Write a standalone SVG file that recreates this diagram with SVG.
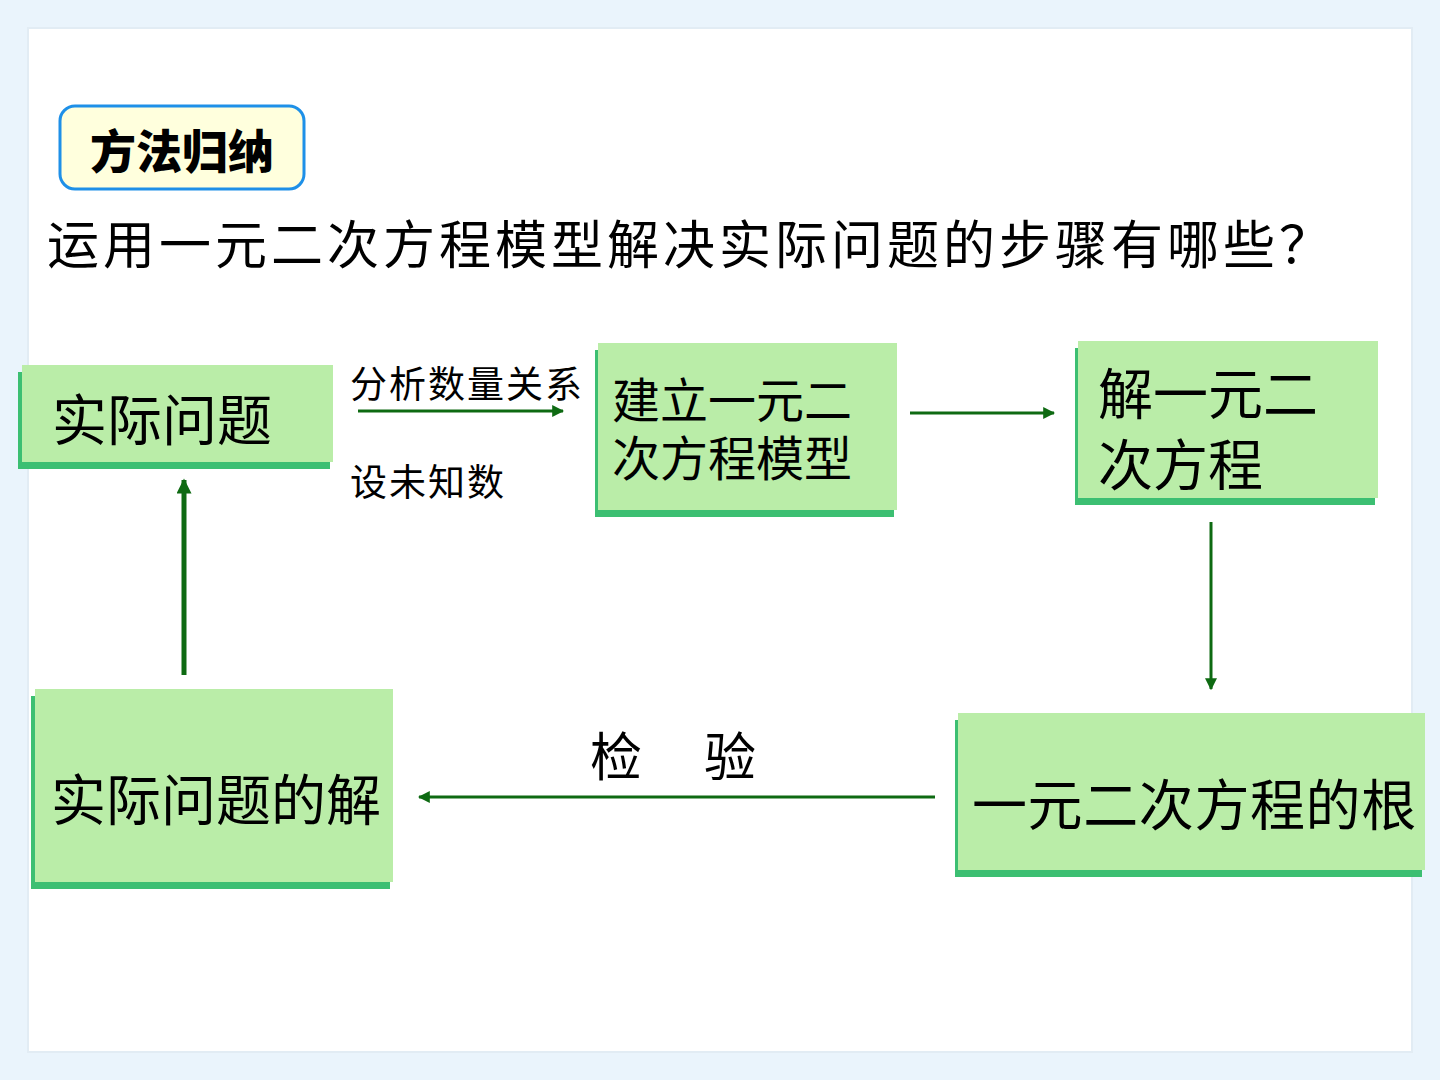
<svg xmlns="http://www.w3.org/2000/svg" width="1440" height="1080" viewBox="0 0 1440 1080">
<defs>
<style>
.bg{fill:#EAF4FC}
.panel{fill:#FFFFFF;stroke:#E2ECF4;stroke-width:2}
.fill{fill:#BAEDA8}
.shadow{fill:#3CBF72}
.t{font-family:"Noto Sans CJK SC","Noto Sans",sans-serif;fill:#000}
.conn{stroke:#0E6A12;stroke-width:3;fill:none}
.thick{stroke-width:5}
</style>
<marker id="ah" viewBox="0 0 10 10" refX="9" refY="5" markerWidth="4" markerHeight="4" orient="auto" markerUnits="strokeWidth">
<path d="M0,0 L10,5 L0,10 z" fill="#0E6A12"/>
</marker>
<marker id="ahb" viewBox="0 0 10 10" refX="9" refY="5" markerWidth="3.2" markerHeight="3" orient="auto" markerUnits="strokeWidth">
<path d="M0,0 L10,5 L0,10 z" fill="#0E6A12"/>
</marker>
</defs>
<rect class="bg" x="0" y="0" width="1440" height="1080"/>
<rect class="panel" x="28" y="28" width="1384" height="1024"/>

<g id="title">
<rect x="60" y="106" width="244" height="83" rx="15" fill="#FFFFDD" stroke="#1E90E8" stroke-width="3"/>
<text class="t" x="182" y="168" font-size="46" font-weight="900" text-anchor="middle">方法归纳</text>
</g>
<g id="question">
<text class="t" x="47" y="264" font-size="52" letter-spacing="4">运用一元二次方程模型解决实际问题的步骤有哪些？</text>
</g>

<g id="node-problem">
<rect class="shadow" x="18" y="372" width="312" height="97"/>
<rect class="fill" x="22" y="365" width="311" height="97"/>
<text class="t" x="52" y="440" font-size="55">实际问题</text>
</g>
<g id="node-model">
<rect class="shadow" x="595" y="350" width="299" height="167"/>
<rect class="fill" x="598" y="343" width="299" height="167"/>
<text class="t" x="612" y="418" font-size="48">建立一元二</text>
<text class="t" x="612" y="476" font-size="48">次方程模型</text>
</g>
<g id="node-solve">
<rect class="shadow" x="1075" y="348" width="300" height="157"/>
<rect class="fill" x="1078" y="341" width="300" height="157"/>
<text class="t" x="1098" y="414" font-size="55">解一元二</text>
<text class="t" x="1098" y="485" font-size="55">次方程</text>
</g>
<g id="node-root">
<rect class="shadow" x="955" y="720" width="467" height="157"/>
<rect class="fill" x="958" y="713" width="467" height="157"/>
<text class="t" x="972" y="825" font-size="55" letter-spacing="0.6">一元二次方程的根</text>
</g>
<g id="node-answer">
<rect class="shadow" x="31" y="696" width="359" height="193"/>
<rect class="fill" x="35" y="689" width="358" height="193"/>
<text class="t" x="51" y="820" font-size="55">实际问题的解</text>
</g>

<g id="connectors">
<line class="conn" x1="358" y1="411" x2="563" y2="411" marker-end="url(#ah)"/>
<line class="conn" x1="910" y1="413" x2="1054" y2="413" marker-end="url(#ah)"/>
<line class="conn" x1="1211" y1="522" x2="1211" y2="689" marker-end="url(#ah)"/>
<line class="conn" x1="935" y1="797" x2="419" y2="797" marker-end="url(#ah)"/>
<line class="conn thick" x1="184" y1="675" x2="184" y2="480" marker-end="url(#ahb)"/>
</g>
<g id="labels">
<text class="t" x="350" y="398" font-size="37" letter-spacing="2">分析数量关系</text>
<text class="t" x="350" y="496" font-size="37" letter-spacing="2">设未知数</text>
<text class="t" x="590" y="776" font-size="52" letter-spacing="5">检　验</text>
</g>
</svg>
